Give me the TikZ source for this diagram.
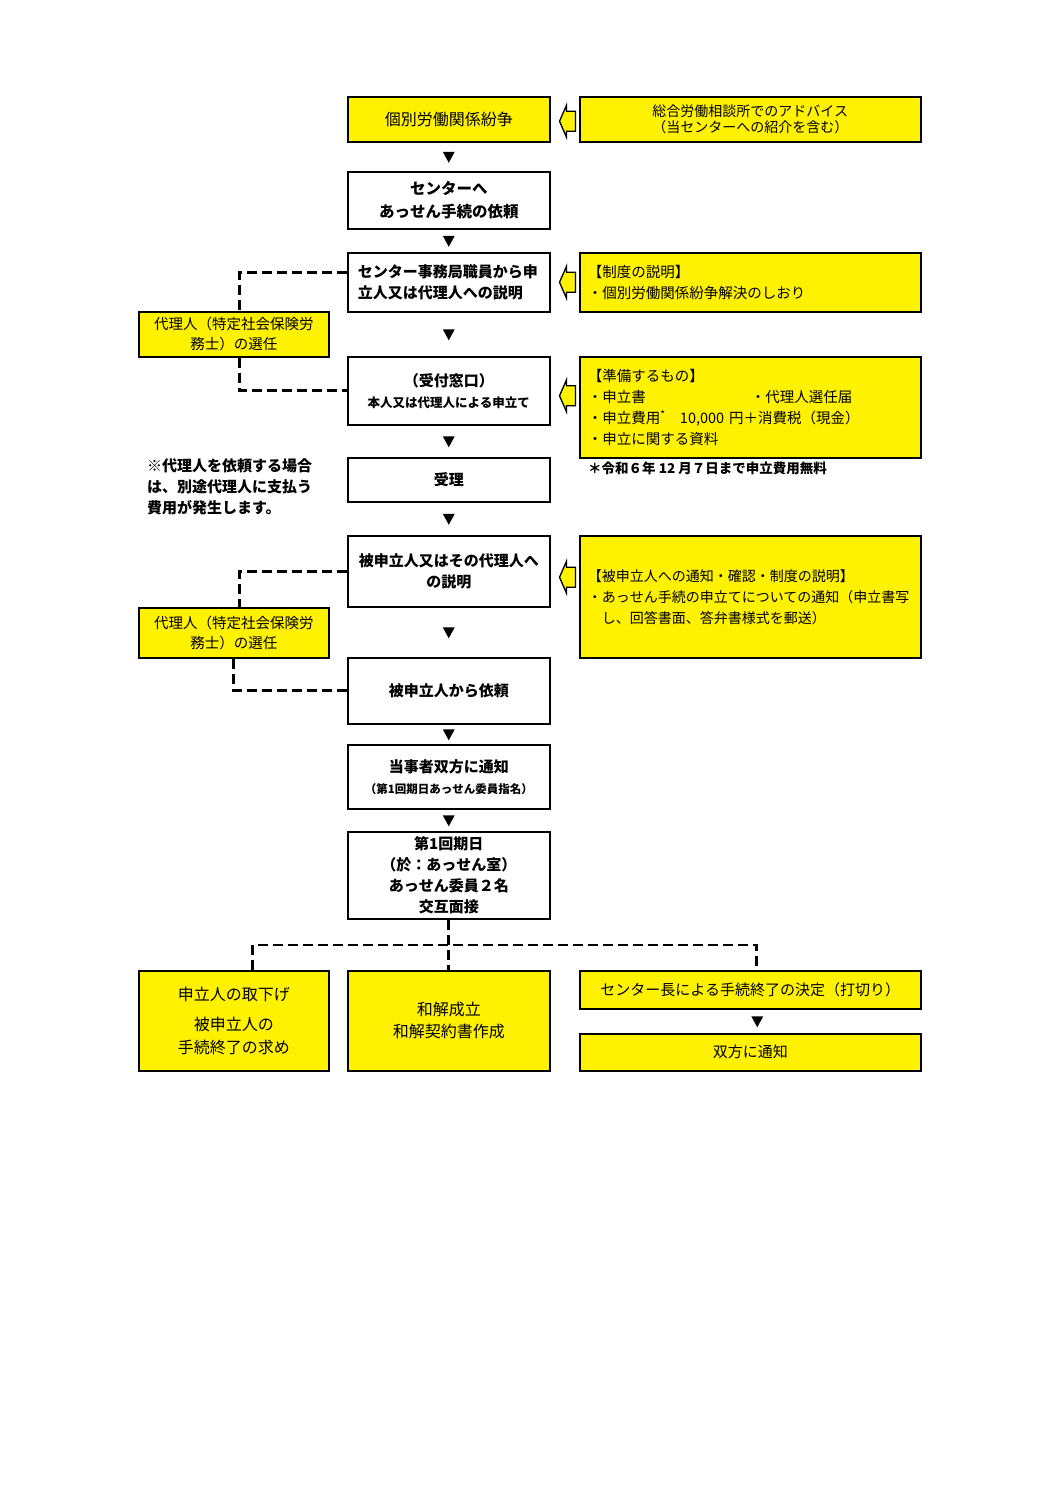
\documentclass[tikz,border=0pt]{standalone}
\usepackage{fontspec}
\setmainfont{Noto Sans CJK JP}
\usetikzlibrary{calc}
\newcommand\fs[2]{\fontsize{#1}{#2}\selectfont}
\newcommand\blockarrowat[1]{\filldraw[blockarr] (#1) -- ++(7,16) -- ++(0,-6) -- ++(9,0) -- ++(0,-20) -- ++(-9,0) -- ++(0,-6) -- cycle;}
\newcommand\downtri[1]{\fill (#1) ++(-6,5) -- ++(12,0) -- ++(-6,-11) -- cycle;}
\begin{document}
\begin{tikzpicture}[x=1pt,y=1pt,
  box/.style={draw, line width=1.5pt, anchor=north west, align=center, inner sep=2pt},
  ybox/.style={box, fill=yellow, font=\fs{15}{21}},
  wbox/.style={box, fill=white, font=\bfseries\fs{15}{21}},
  rtext/.style={ybox, align=left, text width=325pt, inner xsep=8pt, minimum width=341pt, font=\fs{14.5}{21}},
  agent/.style={ybox, minimum width=190pt, font=\fs{14.5}{20}},
  main/.style={minimum width=202pt},
  dashline/.style={line width=2.6pt, dash pattern=on 10pt off 5pt},
  blockarr/.style={fill=yellow, draw=black, line width=1.3pt, line join=miter},
  note/.style={anchor=north west, align=left, inner sep=0pt}
]
\useasboundingbox (0,0) rectangle (1058,-1497);

% main column
\node[ybox, main, minimum height=45pt, font=\fs{16}{21}] (b1) at (347,-96) {個別労働関係紛争};
\node[wbox, main, minimum height=57pt, font=\bfseries\fs{15.5}{23}] (b2) at (347,-171) {センターへ\\あっせん手続の依頼};
\node[wbox, main, minimum height=59pt, align=left, text width=182pt, inner xsep=10pt] (b3) at (347,-252) {センター事務局職員から申\\立人又は代理人への説明};
\node[wbox, main, minimum height=68pt] (b4) at (347,-356) {（受付窓口）\\{\fs{12.5}{20}本人又は代理人による申立て}};
\node[wbox, main, minimum height=44pt] (b5) at (347,-457) {受理};
\node[wbox, main, minimum height=71pt] (b6) at (347,-535) {被申立人又はその代理人へ\\の説明};
\node[wbox, main, minimum height=66pt] (b7) at (347,-657) {被申立人から依頼};
\node[wbox, main, minimum height=64pt] (b8) at (347,-744) {当事者双方に通知\\{\fs{11.5}{20}（第1回期日あっせん委員指名）}};
\node[wbox, main, minimum height=87pt] (b9) at (347,-831) {第1回期日\\（於：あっせん室）\\あっせん委員２名\\交互面接};

% right column
\node[ybox, minimum width=341pt, minimum height=45pt, font=\fs{14}{16}] (r1) at (579,-96) {総合労働相談所でのアドバイス\\（当センターへの紹介を含む）};
\node[rtext, minimum height=59pt] (r3) at (579,-252) {【制度の説明】\\・個別労働関係紛争解決のしおり};
\node[rtext, minimum height=101pt] (r4) at (579,-356) {【準備するもの】\\\makebox[163pt][l]{・申立書}・代理人選任届\\・申立費用\textsuperscript{*}\quad 10,000 円＋消費税（現金）\\・申立に関する資料};
\node[note, font=\bfseries\fs{13.5}{18}] (n2) at (588,-462) {＊令和６年 12 月７日まで申立費用無料};
\node[rtext, minimum height=122pt, font=\fs{14}{21}] (r6) at (579,-535) {【被申立人への通知・確認・制度の説明】\\・あっせん手続の申立てについての通知（申立書写\\\hspace*{1em}し、回答書面、答弁書様式を郵送）};

% left column
\node[agent, minimum height=45pt] (a1) at (138,-311) {代理人（特定社会保険労\\務士）の選任};
\node[note, font=\bfseries\fs{15}{21}] (n1) at (147,-458) {※代理人を依頼する場合\\は、別途代理人に支払う\\費用が発生します。};
\node[agent, minimum height=50pt] (a2) at (138,-607) {代理人（特定社会保険労\\務士）の選任};

% bottom row
\node[ybox, minimum width=190pt, minimum height=100pt, font=\fs{16}{23}] (l) at (138,-970) {申立人の取下げ\\[7pt]被申立人の\\手続終了の求め};
\node[ybox, main, minimum height=100pt, font=\fs{16}{22}] (m) at (347,-970) {和解成立\\和解契約書作成};
\node[ybox, minimum width=341pt, minimum height=38pt, font=\fs{15}{21}] (rr1) at (579,-970) {センター長による手続終了の決定（打切り）};
\node[ybox, minimum width=341pt, minimum height=37pt, font=\fs{15}{21}] (rr2) at (579,-1033) {双方に通知};

% down triangles
\downtri{$(b1.south)!0.5!(b2.north)$}
\downtri{$(b2.south)!0.5!(b3.north)$}
\downtri{$(b3.south)!0.5!(b4.north)$}
\downtri{$(b4.south)!0.5!(b5.north)$}
\downtri{$(b5.south)!0.5!(b6.north)$}
\downtri{$(b6.south)!0.5!(b7.north)$}
\downtri{$(b7.south)!0.5!(b8.north)$}
\downtri{$(b8.south)!0.5!(b9.north)$}
\downtri{$([xshift=7pt]rr1.south)!0.5!([xshift=7pt]rr2.north)$}

% block arrows
\blockarrowat{$([xshift=9pt,yshift=-2pt]b1.east)$}
\blockarrowat{$([xshift=9pt]b3.east)$}
\blockarrowat{$([xshift=9pt,yshift=-5pt]b4.east)$}
\blockarrowat{$([xshift=9pt,yshift=-6pt]b6.east)$}

% dashed connectors
\draw[dashline] ([yshift=10pt]b3.west) -| ([xshift=6pt]a1.north);
\draw[dashline] ([xshift=6pt]a1.south) |- (b4.west);
\draw[dashline] (b6.west) -| ([xshift=6pt]a2.north);
\draw[dashline] (a2.south) |- (b7.west);
\draw[dashline] (b9.south) -- (m.north);
\draw[dashline] ([xshift=19pt]l.north) -- ++(0,25) -| ([xshift=6.5pt]rr1.north);
\end{tikzpicture}
\end{document}
